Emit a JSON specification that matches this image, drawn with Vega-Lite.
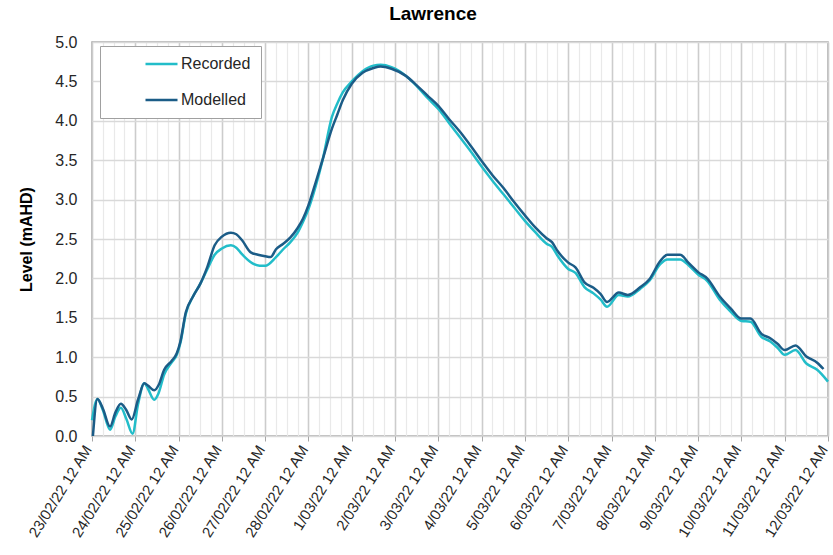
{
  "$schema": "https://vega.github.io/schema/vega-lite/v6.json",
  "autosize": {"type": "none"},
  "padding": {"left": 92, "top": 42, "right": 5, "bottom": 119},
  "width": 736,
  "height": 394,
  "title": {
    "text": "Lawrence",
    "font": "Liberation Sans",
    "fontSize": 19,
    "fontWeight": "bold",
    "color": "#000000",
    "anchor": "middle",
    "dx": -27,
    "offset": 10
  },
  "config": {
    "font": "Liberation Sans",
    "view": {"stroke": "#a6a6a6", "strokeWidth": 1.5}
  },
  "data": {
    "values": [
      {"series": "Recorded", "time": "2022-02-23T00:00", "level": 0.20},
      {"series": "Recorded", "time": "2022-02-23T03:00", "level": 0.47},
      {"series": "Recorded", "time": "2022-02-23T06:00", "level": 0.33},
      {"series": "Recorded", "time": "2022-02-23T10:00", "level": 0.08},
      {"series": "Recorded", "time": "2022-02-23T13:00", "level": 0.25},
      {"series": "Recorded", "time": "2022-02-23T16:00", "level": 0.36},
      {"series": "Recorded", "time": "2022-02-23T19:00", "level": 0.22},
      {"series": "Recorded", "time": "2022-02-23T22:30", "level": 0.03},
      {"series": "Recorded", "time": "2022-02-24T01:30", "level": 0.40},
      {"series": "Recorded", "time": "2022-02-24T05:00", "level": 0.67},
      {"series": "Recorded", "time": "2022-02-24T07:00", "level": 0.60},
      {"series": "Recorded", "time": "2022-02-24T10:30", "level": 0.46},
      {"series": "Recorded", "time": "2022-02-24T13:00", "level": 0.55},
      {"series": "Recorded", "time": "2022-02-24T16:00", "level": 0.78},
      {"series": "Recorded", "time": "2022-02-24T20:00", "level": 0.93},
      {"series": "Recorded", "time": "2022-02-24T23:00", "level": 1.03},
      {"series": "Recorded", "time": "2022-02-25T01:00", "level": 1.18},
      {"series": "Recorded", "time": "2022-02-25T04:00", "level": 1.55},
      {"series": "Recorded", "time": "2022-02-25T08:00", "level": 1.77},
      {"series": "Recorded", "time": "2022-02-25T12:00", "level": 1.93},
      {"series": "Recorded", "time": "2022-02-25T16:00", "level": 2.12},
      {"series": "Recorded", "time": "2022-02-25T20:00", "level": 2.30},
      {"series": "Recorded", "time": "2022-02-26T00:00", "level": 2.38},
      {"series": "Recorded", "time": "2022-02-26T05:00", "level": 2.42},
      {"series": "Recorded", "time": "2022-02-26T08:00", "level": 2.39},
      {"series": "Recorded", "time": "2022-02-26T11:00", "level": 2.31},
      {"series": "Recorded", "time": "2022-02-26T17:00", "level": 2.19},
      {"series": "Recorded", "time": "2022-02-26T21:00", "level": 2.16},
      {"series": "Recorded", "time": "2022-02-27T00:00", "level": 2.16},
      {"series": "Recorded", "time": "2022-02-27T06:00", "level": 2.27},
      {"series": "Recorded", "time": "2022-02-27T10:00", "level": 2.37},
      {"series": "Recorded", "time": "2022-02-27T14:00", "level": 2.46},
      {"series": "Recorded", "time": "2022-02-27T18:00", "level": 2.58},
      {"series": "Recorded", "time": "2022-02-27T21:00", "level": 2.72},
      {"series": "Recorded", "time": "2022-02-28T00:00", "level": 2.88},
      {"series": "Recorded", "time": "2022-02-28T04:00", "level": 3.17},
      {"series": "Recorded", "time": "2022-02-28T08:00", "level": 3.52},
      {"series": "Recorded", "time": "2022-02-28T13:00", "level": 4.05},
      {"series": "Recorded", "time": "2022-02-28T16:00", "level": 4.22},
      {"series": "Recorded", "time": "2022-02-28T19:00", "level": 4.36},
      {"series": "Recorded", "time": "2022-03-01T00:00", "level": 4.50},
      {"series": "Recorded", "time": "2022-03-01T06:00", "level": 4.63},
      {"series": "Recorded", "time": "2022-03-01T12:00", "level": 4.70},
      {"series": "Recorded", "time": "2022-03-01T16:00", "level": 4.71},
      {"series": "Recorded", "time": "2022-03-01T22:00", "level": 4.68},
      {"series": "Recorded", "time": "2022-03-02T06:00", "level": 4.57},
      {"series": "Recorded", "time": "2022-03-02T12:00", "level": 4.44},
      {"series": "Recorded", "time": "2022-03-02T18:00", "level": 4.29},
      {"series": "Recorded", "time": "2022-03-03T00:00", "level": 4.15},
      {"series": "Recorded", "time": "2022-03-03T06:00", "level": 3.97},
      {"series": "Recorded", "time": "2022-03-03T12:00", "level": 3.79},
      {"series": "Recorded", "time": "2022-03-03T18:00", "level": 3.61},
      {"series": "Recorded", "time": "2022-03-04T00:00", "level": 3.42},
      {"series": "Recorded", "time": "2022-03-04T06:00", "level": 3.24},
      {"series": "Recorded", "time": "2022-03-04T12:00", "level": 3.07},
      {"series": "Recorded", "time": "2022-03-04T18:00", "level": 2.90},
      {"series": "Recorded", "time": "2022-03-05T00:00", "level": 2.73},
      {"series": "Recorded", "time": "2022-03-05T06:00", "level": 2.58},
      {"series": "Recorded", "time": "2022-03-05T12:00", "level": 2.44},
      {"series": "Recorded", "time": "2022-03-05T15:00", "level": 2.40},
      {"series": "Recorded", "time": "2022-03-05T18:00", "level": 2.29},
      {"series": "Recorded", "time": "2022-03-06T00:00", "level": 2.12},
      {"series": "Recorded", "time": "2022-03-06T04:00", "level": 2.07},
      {"series": "Recorded", "time": "2022-03-06T09:00", "level": 1.89},
      {"series": "Recorded", "time": "2022-03-06T14:00", "level": 1.81},
      {"series": "Recorded", "time": "2022-03-06T18:00", "level": 1.73},
      {"series": "Recorded", "time": "2022-03-06T21:30", "level": 1.64},
      {"series": "Recorded", "time": "2022-03-07T04:00", "level": 1.79},
      {"series": "Recorded", "time": "2022-03-07T09:00", "level": 1.77},
      {"series": "Recorded", "time": "2022-03-07T16:00", "level": 1.87},
      {"series": "Recorded", "time": "2022-03-07T21:00", "level": 1.97},
      {"series": "Recorded", "time": "2022-03-08T03:00", "level": 2.18},
      {"series": "Recorded", "time": "2022-03-08T07:00", "level": 2.24},
      {"series": "Recorded", "time": "2022-03-08T14:00", "level": 2.24},
      {"series": "Recorded", "time": "2022-03-08T19:00", "level": 2.16},
      {"series": "Recorded", "time": "2022-03-09T00:00", "level": 2.05},
      {"series": "Recorded", "time": "2022-03-09T05:00", "level": 1.97},
      {"series": "Recorded", "time": "2022-03-09T12:00", "level": 1.73},
      {"series": "Recorded", "time": "2022-03-09T18:00", "level": 1.58},
      {"series": "Recorded", "time": "2022-03-10T00:00", "level": 1.46},
      {"series": "Recorded", "time": "2022-03-10T05:00", "level": 1.45},
      {"series": "Recorded", "time": "2022-03-10T11:00", "level": 1.26},
      {"series": "Recorded", "time": "2022-03-10T16:00", "level": 1.20},
      {"series": "Recorded", "time": "2022-03-10T20:00", "level": 1.12},
      {"series": "Recorded", "time": "2022-03-11T00:00", "level": 1.03},
      {"series": "Recorded", "time": "2022-03-11T06:00", "level": 1.09},
      {"series": "Recorded", "time": "2022-03-11T12:00", "level": 0.92},
      {"series": "Recorded", "time": "2022-03-11T18:00", "level": 0.84},
      {"series": "Recorded", "time": "2022-03-12T00:00", "level": 0.69},
      {"series": "Modelled", "time": "2022-02-23T00:30", "level": 0.00},
      {"series": "Modelled", "time": "2022-02-23T03:00", "level": 0.47},
      {"series": "Modelled", "time": "2022-02-23T06:00", "level": 0.35},
      {"series": "Modelled", "time": "2022-02-23T10:00", "level": 0.12},
      {"series": "Modelled", "time": "2022-02-23T13:00", "level": 0.30},
      {"series": "Modelled", "time": "2022-02-23T16:00", "level": 0.41},
      {"series": "Modelled", "time": "2022-02-23T19:00", "level": 0.33},
      {"series": "Modelled", "time": "2022-02-23T22:00", "level": 0.21},
      {"series": "Modelled", "time": "2022-02-24T01:30", "level": 0.46},
      {"series": "Modelled", "time": "2022-02-24T05:00", "level": 0.67},
      {"series": "Modelled", "time": "2022-02-24T07:00", "level": 0.64},
      {"series": "Modelled", "time": "2022-02-24T10:30", "level": 0.58},
      {"series": "Modelled", "time": "2022-02-24T13:00", "level": 0.65},
      {"series": "Modelled", "time": "2022-02-24T16:00", "level": 0.84},
      {"series": "Modelled", "time": "2022-02-24T20:00", "level": 0.95},
      {"series": "Modelled", "time": "2022-02-24T23:00", "level": 1.05},
      {"series": "Modelled", "time": "2022-02-25T01:00", "level": 1.20},
      {"series": "Modelled", "time": "2022-02-25T04:00", "level": 1.57},
      {"series": "Modelled", "time": "2022-02-25T08:00", "level": 1.77},
      {"series": "Modelled", "time": "2022-02-25T12:00", "level": 1.93},
      {"series": "Modelled", "time": "2022-02-25T16:00", "level": 2.15},
      {"series": "Modelled", "time": "2022-02-25T20:00", "level": 2.42},
      {"series": "Modelled", "time": "2022-02-26T00:00", "level": 2.53},
      {"series": "Modelled", "time": "2022-02-26T05:00", "level": 2.58},
      {"series": "Modelled", "time": "2022-02-26T08:00", "level": 2.56},
      {"series": "Modelled", "time": "2022-02-26T11:00", "level": 2.49},
      {"series": "Modelled", "time": "2022-02-26T16:00", "level": 2.33},
      {"series": "Modelled", "time": "2022-02-26T20:00", "level": 2.30},
      {"series": "Modelled", "time": "2022-02-27T00:00", "level": 2.28},
      {"series": "Modelled", "time": "2022-02-27T03:00", "level": 2.27},
      {"series": "Modelled", "time": "2022-02-27T06:00", "level": 2.37},
      {"series": "Modelled", "time": "2022-02-27T10:00", "level": 2.44},
      {"series": "Modelled", "time": "2022-02-27T14:00", "level": 2.52},
      {"series": "Modelled", "time": "2022-02-27T18:00", "level": 2.64},
      {"series": "Modelled", "time": "2022-02-27T21:00", "level": 2.76},
      {"series": "Modelled", "time": "2022-02-28T00:00", "level": 2.93},
      {"series": "Modelled", "time": "2022-02-28T04:00", "level": 3.22},
      {"series": "Modelled", "time": "2022-02-28T08:00", "level": 3.52},
      {"series": "Modelled", "time": "2022-02-28T13:00", "level": 3.90},
      {"series": "Modelled", "time": "2022-02-28T16:00", "level": 4.08},
      {"series": "Modelled", "time": "2022-02-28T19:00", "level": 4.26},
      {"series": "Modelled", "time": "2022-03-01T00:00", "level": 4.47},
      {"series": "Modelled", "time": "2022-03-01T06:00", "level": 4.61},
      {"series": "Modelled", "time": "2022-03-01T12:00", "level": 4.67},
      {"series": "Modelled", "time": "2022-03-01T16:00", "level": 4.69},
      {"series": "Modelled", "time": "2022-03-01T22:00", "level": 4.66},
      {"series": "Modelled", "time": "2022-03-02T06:00", "level": 4.57},
      {"series": "Modelled", "time": "2022-03-02T12:00", "level": 4.45},
      {"series": "Modelled", "time": "2022-03-02T18:00", "level": 4.32},
      {"series": "Modelled", "time": "2022-03-03T00:00", "level": 4.19},
      {"series": "Modelled", "time": "2022-03-03T06:00", "level": 4.02},
      {"series": "Modelled", "time": "2022-03-03T12:00", "level": 3.86},
      {"series": "Modelled", "time": "2022-03-03T18:00", "level": 3.68},
      {"series": "Modelled", "time": "2022-03-04T00:00", "level": 3.49},
      {"series": "Modelled", "time": "2022-03-04T06:00", "level": 3.31},
      {"series": "Modelled", "time": "2022-03-04T12:00", "level": 3.15},
      {"series": "Modelled", "time": "2022-03-04T18:00", "level": 2.97},
      {"series": "Modelled", "time": "2022-03-05T00:00", "level": 2.80},
      {"series": "Modelled", "time": "2022-03-05T06:00", "level": 2.64},
      {"series": "Modelled", "time": "2022-03-05T12:00", "level": 2.51},
      {"series": "Modelled", "time": "2022-03-05T15:00", "level": 2.46},
      {"series": "Modelled", "time": "2022-03-05T18:00", "level": 2.35},
      {"series": "Modelled", "time": "2022-03-06T00:00", "level": 2.20},
      {"series": "Modelled", "time": "2022-03-06T04:00", "level": 2.14},
      {"series": "Modelled", "time": "2022-03-06T09:00", "level": 1.95},
      {"series": "Modelled", "time": "2022-03-06T14:00", "level": 1.88},
      {"series": "Modelled", "time": "2022-03-06T18:00", "level": 1.80},
      {"series": "Modelled", "time": "2022-03-06T21:30", "level": 1.70},
      {"series": "Modelled", "time": "2022-03-07T04:00", "level": 1.82},
      {"series": "Modelled", "time": "2022-03-07T09:00", "level": 1.79},
      {"series": "Modelled", "time": "2022-03-07T16:00", "level": 1.89},
      {"series": "Modelled", "time": "2022-03-07T21:00", "level": 1.99},
      {"series": "Modelled", "time": "2022-03-08T03:00", "level": 2.22},
      {"series": "Modelled", "time": "2022-03-08T07:00", "level": 2.30},
      {"series": "Modelled", "time": "2022-03-08T14:00", "level": 2.30},
      {"series": "Modelled", "time": "2022-03-08T19:00", "level": 2.19},
      {"series": "Modelled", "time": "2022-03-09T00:00", "level": 2.08},
      {"series": "Modelled", "time": "2022-03-09T05:00", "level": 2.00},
      {"series": "Modelled", "time": "2022-03-09T12:00", "level": 1.77},
      {"series": "Modelled", "time": "2022-03-09T18:00", "level": 1.62},
      {"series": "Modelled", "time": "2022-03-10T00:00", "level": 1.49},
      {"series": "Modelled", "time": "2022-03-10T05:00", "level": 1.49},
      {"series": "Modelled", "time": "2022-03-10T11:00", "level": 1.30},
      {"series": "Modelled", "time": "2022-03-10T16:00", "level": 1.24},
      {"series": "Modelled", "time": "2022-03-10T20:00", "level": 1.17},
      {"series": "Modelled", "time": "2022-03-11T00:00", "level": 1.09},
      {"series": "Modelled", "time": "2022-03-11T06:00", "level": 1.15},
      {"series": "Modelled", "time": "2022-03-11T12:00", "level": 1.01},
      {"series": "Modelled", "time": "2022-03-11T18:00", "level": 0.93},
      {"series": "Modelled", "time": "2022-03-11T21:30", "level": 0.85}
    ]
  },
  "mark": {"type": "line", "interpolate": "monotone", "strokeWidth": 2.5},
  "encoding": {
    "x": {
      "field": "time",
      "type": "temporal",
      "scale": {"nice": false},
      "axis": {
        "title": null,
        "tickCount": 68,
        "labelExpr": "hours(datum.value) == 0 ? timeFormat(datum.value, '%-d/%m/%y %-I %p') : ''",
        "labelAngle": -58,
        "labelBaseline": "alphabetic",
        "labelFontSize": 15,
        "labelColor": "#262626",
        "labelOverlap": false,
        "labelFlush": false,
        "labelPadding": 8,
        "domain": false,
        "tickSize": 5,
        "tickColor": "#a6a6a6",
        "tickOpacity": {"condition": {"test": "hours(datum.value) == 0", "value": 1}, "value": 0},
        "grid": true,
        "gridColor": {"condition": {"test": "hours(datum.value) == 0", "value": "#cccccc"}, "value": "#e9e9e9"},
        "gridWidth": {"condition": {"test": "hours(datum.value) == 0", "value": 1.6}, "value": 1.2}
      }
    },
    "y": {
      "field": "level",
      "type": "quantitative",
      "scale": {"domain": [0, 5], "nice": false},
      "axis": {
        "title": "Level (mAHD)",
        "titleFontSize": 16,
        "titleFontWeight": "bold",
        "titleColor": "#000000",
        "titlePadding": 20,
        "values": [0, 0.5, 1, 1.5, 2, 2.5, 3, 3.5, 4, 4.5, 5],
        "format": ".1f",
        "labelFontSize": 16,
        "labelColor": "#262626",
        "labelPadding": 15,
        "ticks": false,
        "domain": false,
        "grid": true,
        "gridColor": "#d9d9d9",
        "gridWidth": 1.5
      }
    },
    "color": {
      "field": "series",
      "type": "nominal",
      "scale": {"domain": ["Recorded", "Modelled"], "range": ["#22bdc9", "#1b5c87"]},
      "legend": {
        "title": null,
        "orient": "none",
        "legendX": 8,
        "legendY": 4,
        "symbolType": "stroke",
        "symbolSize": 1024,
        "symbolStrokeWidth": 2.5,
        "symbolOffset": 34,
        "labelOffset": 2,
        "labelExpr": "datum.label + '\u00a0\u00a0\u00a0\u00a0\u00a0\u00a0\u00a0\u00a0'",
        "clipHeight": 16,
        "labelFontSize": 16,
        "labelColor": "#262626",
        "rowPadding": 20,
        "padding": 10,
        "fillColor": "#ffffff",
        "strokeColor": "#a0a0a0"
      }
    }
  }
}
